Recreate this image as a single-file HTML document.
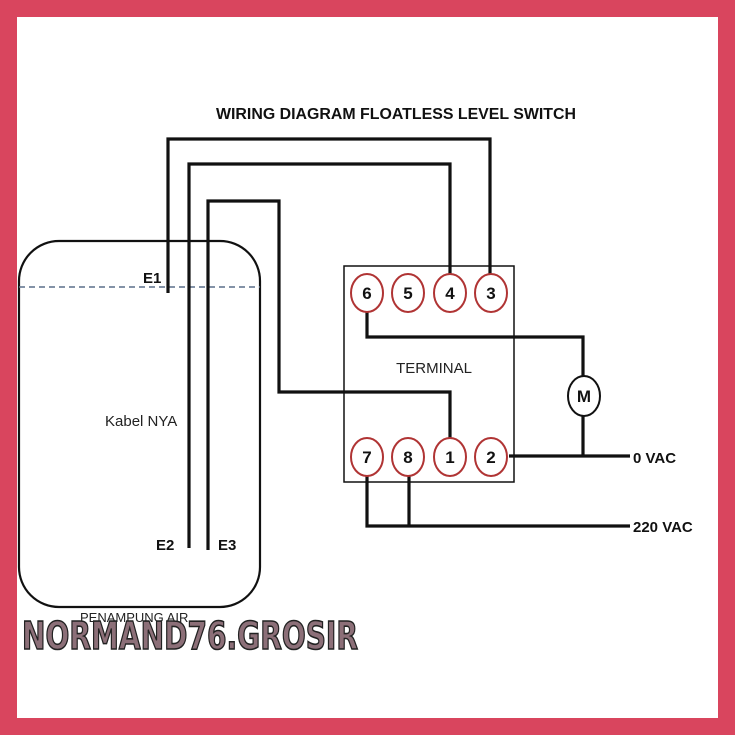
<!DOCTYPE html>
<html><head><meta charset="utf-8"><style>
html,body{margin:0;padding:0;background:#d9455e;}
svg{display:block}
text{font-family:"Liberation Sans",sans-serif;}
</style></head><body>
<svg width="735" height="735" viewBox="0 0 735 735" xmlns="http://www.w3.org/2000/svg">
<rect x="0" y="0" width="735" height="735" fill="#d9455e"/>
<rect x="17" y="17" width="701" height="701" fill="#fff"/>
<text x="396" y="119" text-anchor="middle" font-size="15.5" font-weight="bold" fill="#111" textLength="360" lengthAdjust="spacingAndGlyphs">WIRING DIAGRAM FLOATLESS LEVEL SWITCH</text>
<!-- tank -->
<rect x="19" y="241" width="241" height="366" rx="40" ry="40" fill="none" stroke="#111" stroke-width="2.2"/>
<line x1="19" y1="287" x2="260" y2="287" stroke="#5a6f8a" stroke-width="1.6" stroke-dasharray="6,4"/>
<!-- terminal box -->
<rect x="344" y="266" width="170" height="216" fill="none" stroke="#111" stroke-width="1.5"/>
<g fill="none" stroke="#111" stroke-width="3.2">
<polyline points="168,293 168,139 490,139 490,274"/>
<polyline points="189,548 189,164 450,164 450,274"/>
<polyline points="208,550 208,201 279,201 279,392 450,392 450,438"/>
<polyline points="367,312 367,337 583,337 583,376"/>
<line x1="583" y1="416" x2="583" y2="457"/>
<line x1="509" y1="456" x2="630" y2="456"/>
<polyline points="367,476 367,526 630,526"/>
<line x1="409" y1="476" x2="409" y2="526"/>
</g>
<g fill="#fff" stroke="#b03434" stroke-width="2">
<ellipse cx="367" cy="293" rx="16" ry="19"/>
<ellipse cx="408" cy="293" rx="16" ry="19"/>
<ellipse cx="450" cy="293" rx="16" ry="19"/>
<ellipse cx="491" cy="293" rx="16" ry="19"/>
<ellipse cx="367" cy="457" rx="16" ry="19"/>
<ellipse cx="408" cy="457" rx="16" ry="19"/>
<ellipse cx="450" cy="457" rx="16" ry="19"/>
<ellipse cx="491" cy="457" rx="16" ry="19"/>
</g>
<ellipse cx="584" cy="396" rx="16" ry="20" fill="#fff" stroke="#111" stroke-width="2"/>
<g font-size="17" font-weight="bold" fill="#111" text-anchor="middle">
<text x="367" y="299">6</text><text x="408" y="299">5</text><text x="450" y="299">4</text><text x="491" y="299">3</text>
<text x="367" y="463">7</text><text x="408" y="463">8</text><text x="450" y="463">1</text><text x="491" y="463">2</text>
<text x="584" y="402">M</text>
</g>
<text x="434" y="373" text-anchor="middle" font-size="15" fill="#222">TERMINAL</text>
<text x="105" y="426" font-size="15" fill="#222">Kabel NYA</text>
<g font-size="15" font-weight="bold" fill="#111">
<text x="143" y="283">E1</text>
<text x="156" y="550">E2</text>
<text x="218" y="550">E3</text>
<text x="633" y="463">0 VAC</text>
<text x="633" y="532">220 VAC</text>
</g>
<text x="80" y="622" font-size="13" fill="#222">PENAMPUNG AIR</text>
<text x="22" y="649" font-size="38" font-weight="bold" fill="#8c6f78" stroke="#222" stroke-width="1.6" textLength="336" lengthAdjust="spacingAndGlyphs" style="font-family:'DejaVu Sans',sans-serif">NORMAND76.GROSIR</text>
</svg>
</body></html>
